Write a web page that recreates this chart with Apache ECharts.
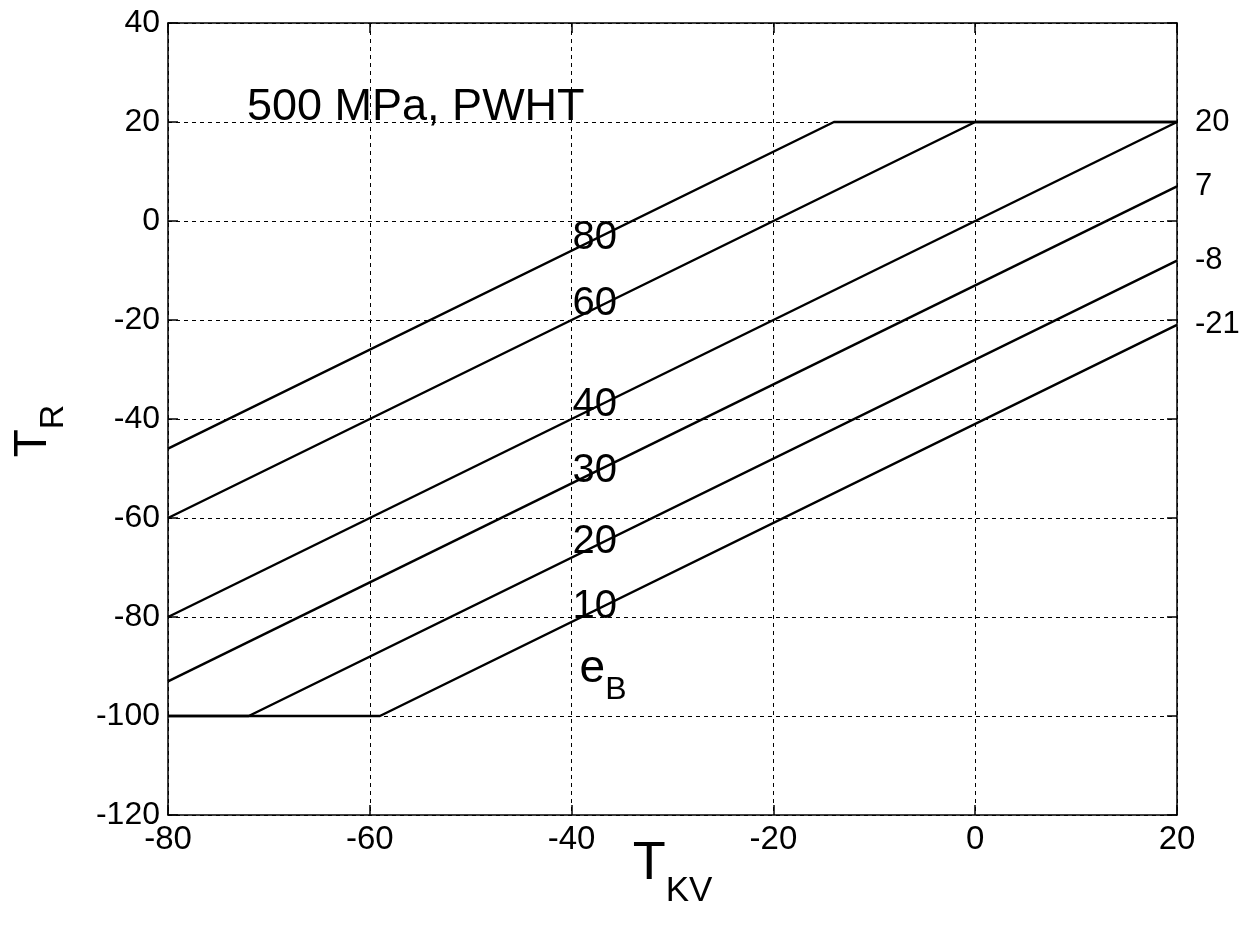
<!DOCTYPE html>
<html><head><meta charset="utf-8">
<script src="https://cdn.jsdelivr.net/npm/echarts@6/dist/echarts.min.js"></script>
<style>html,body{margin:0;padding:0;background:#fff}#c{width:1249px;height:927px}</style>
</head><body><div id="c"></div>
<script>
// ---- data ----
const xTickLabels = ['-80','-60','-40','-20','0','20'];
const yTickLabels = ['-120','-100','-80','-60','-40','-20','0','20','40'];
const eBLevels = ['80','60','40','30','20','10'];
const curve80 = [[-80,-46],[-14,20],[20,20]];
const curve60 = [[-80,-60],[0,20],[20,20]];
const curve40 = [[-80,-80],[20,20]];
const curve30 = [[-80,-93],[20,7]];
const curve20 = [[-80,-100],[-72,-100],[20,-8]];
const curve10 = [[-80,-100],[-59,-100],[20,-21]];
const showEndValue = [false,false,true,true,true,true];
const labelAnchorX = -40;
const labelAnchorY = [-3.4,-16.7,-37.2,-50.5,-64.8,-78];
const eBAnchorY = -90.5;
const titleText = '500 MPa, PWHT';

const curves = [curve80, curve60, curve40, curve30, curve20, curve10];
const FONT = '"Liberation Sans", Arial, Helvetica, sans-serif';
const xMin = Number(xTickLabels[0]), xMax = Number(xTickLabels[xTickLabels.length-1]);
const yMin = Number(yTickLabels[0]), yMax = Number(yTickLabels[yTickLabels.length-1]);

const chart = echarts.init(document.getElementById('c'), null, {renderer:'canvas'});

const baseAxis = {
  type:'value', interval:20,
  axisLine:{show:true, onZero:false, lineStyle:{color:'#000', width:1.5}},
  axisTick:{show:true, inside:true, length:10, lineStyle:{color:'#000', width:1.5}},
  splitLine:{show:false},
  axisLabel:{show:false}
};

const series = curves.map((c,i)=>({
  type:'line', name:'e'+eBLevels[i], data:c, showSymbol:false, symbol:'none',
  xAxisIndex:0, yAxisIndex:0,
  lineStyle:{color:'#000', width:2.5}, z:3,
  endLabel:{show:showEndValue[i], formatter:p=>String(p.value[1]), fontSize:31,
            color:'#000', fontFamily:FONT, distance:18}
}));

const labelData = eBLevels.map((t,i)=>({name:t, value:[labelAnchorX, labelAnchorY[i]]}));
labelData.push({name:'eB', value:[labelAnchorX, eBAnchorY],
  label:{formatter:'{e|e}{s|B}', padding:[0,0,0,7]}});

series.push({
  type:'scatter', data:labelData, symbol:'circle', symbolSize:2,
  itemStyle:{color:'rgba(0,0,0,0)'}, z:4, silent:true,
  label:{show:true, position:'right', distance:0, formatter:p=>p.name,
    fontSize:40, color:'#000', opacity:1, fontFamily:FONT,
    rich:{
      e:{fontSize:46, fontFamily:FONT, color:'#000', verticalAlign:'top', lineHeight:46},
      s:{fontSize:32, fontFamily:FONT, color:'#000', verticalAlign:'top', lineHeight:32, padding:[28,0,0,0]}
    }},
  labelLayout:{hideOverlap:false}
});

chart.setOption({
  animation:false,
  backgroundColor:'#fff',
  title:{text:titleText, left:242, top:80,
    textStyle:{fontSize:45, fontWeight:'normal', color:'#000', fontFamily:FONT}},
  grid:{left:168, right:72, top:23, bottom:112, containLabel:false, outerBoundsMode:'none'},
  xAxis:[
    Object.assign({}, baseAxis, {position:'bottom', min:xMin, max:xMax,
      splitLine:{show:true, lineStyle:{color:'#000', width:1, type:[4,4]}},
      axisLabel:{show:true, fontSize:33, color:'#000', fontFamily:FONT, margin:8,
        showMinLabel:true, showMaxLabel:true},
      name:'{t|T}{s|KV}', nameLocation:'middle', nameGap:22, nameMoveOverlap:false,
      nameTextStyle:{rich:{
        t:{fontSize:54, fontFamily:FONT, color:'#000', verticalAlign:'top', lineHeight:54},
        s:{fontSize:35, fontFamily:FONT, color:'#000', verticalAlign:'top', lineHeight:35, padding:[37,0,0,0]}
      }}
    }),
    Object.assign({}, baseAxis, {position:'top', min:xMin, max:xMax})
  ],
  yAxis:[
    Object.assign({}, baseAxis, {position:'left', min:yMin, max:yMax,
      splitLine:{show:true, lineStyle:{color:'#000', width:1, type:[4,4]}},
      axisLabel:{show:true, fontSize:32, color:'#000', fontFamily:FONT, margin:8,
        showMinLabel:true, showMaxLabel:true},
      name:'{t|T}{s|R}', nameLocation:'middle', nameGap:112,
      nameTextStyle:{padding:[0,24,0,0], rich:{
        t:{fontSize:46, fontFamily:FONT, color:'#000', verticalAlign:'top', lineHeight:46},
        s:{fontSize:34, fontFamily:FONT, color:'#000', verticalAlign:'top', lineHeight:34, padding:[27,0,0,0]}
      }}
    }),
    Object.assign({}, baseAxis, {position:'right', min:yMin, max:yMax})
  ],
  series:series
});
</script></body></html>
